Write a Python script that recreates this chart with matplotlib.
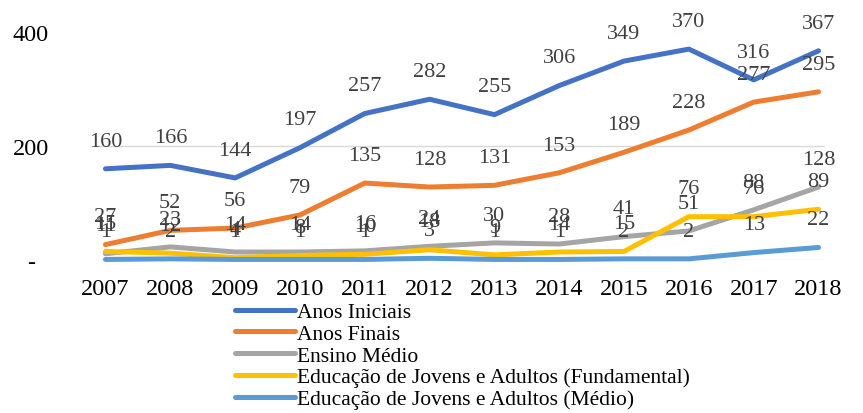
import matplotlib.pyplot as plt

plt.rcParams['font.family'] = ['Liberation Serif', 'DejaVu Serif']

years = ['2007', '2008', '2009', '2010', '2011', '2012',
         '2013', '2014', '2015', '2016', '2017', '2018']

anos_iniciais = [160, 166, 144, 197, 257, 282, 255, 306, 349, 370, 316, 367]
anos_finais = [27, 52, 56, 79, 135, 128, 131, 153, 189, 228, 277, 295]
ensino_medio = [11, 23, 14, 14, 16, 24, 30, 28, 41, 51, 88, 128]
eja_fund = [15, 12, 4, 8, 10, 18, 9, 14, 15, 76, 76, 89]
eja_medio = [1, 2, 1, 1, 1, 3, 1, 1, 2, 2, 13, 22]

series = [
    ('Anos Iniciais', anos_iniciais, '#4472C4'),
    ('Anos Finais', anos_finais, '#ED7D31'),
    ('Ensino Médio', ensino_medio, '#A5A5A5'),
    ('Educação de Jovens e Adultos (Fundamental)', eja_fund, '#FFC000'),
    ('Educação de Jovens e Adultos (Médio)', eja_medio, '#5B9BD5'),
]

fig = plt.figure(figsize=(8.63, 4.14), dpi=100)
ax = fig.add_axes([99 / 863, 1 - 261 / 414, (825 - 99) / 863, (261 - 33) / 414])

x = list(range(len(years)))

# gridline at 200 and base line
ax.axhline(200, color='#D9D9D9', lw=1, zorder=0)
ax.axhline(0, color='#D9D9D9', lw=1, zorder=0)

for name, vals, col in series:
    ax.plot(x, vals, color=col, lw=3.6, label=name, solid_capstyle='round',
            clip_on=False)

for name, vals, col in series:
    for xi, v in zip(x, vals):
        ax.annotate(str(v), (xi, v), xytext=(0, 20), textcoords='offset points',
                    ha='center', va='center', fontsize=16, color='#404040',
                    annotation_clip=False)

ax.set_xlim(-0.1, 11.1)
ax.set_ylim(0, 400)
ax.set_xticks(x)
ax.set_xticklabels(years, fontsize=17.5)
ax.set_yticks([0, 200, 400])
ax.set_yticklabels(['-', '200', '400'], fontsize=17.5, ha='center')
ax.tick_params(axis='y', length=0, pad=49)
ax.tick_params(axis='x', length=0, pad=13)
for s in ax.spines.values():
    s.set_visible(False)

fig.legend(loc='upper left', bbox_to_anchor=(235 / 863, 1 - 303 / 414),
           frameon=False, fontsize=15.5, handlelength=2.8, handletextpad=0.1,
           labelspacing=0.08, borderpad=0, borderaxespad=0)

fig.savefig('out.png', dpi=100)
